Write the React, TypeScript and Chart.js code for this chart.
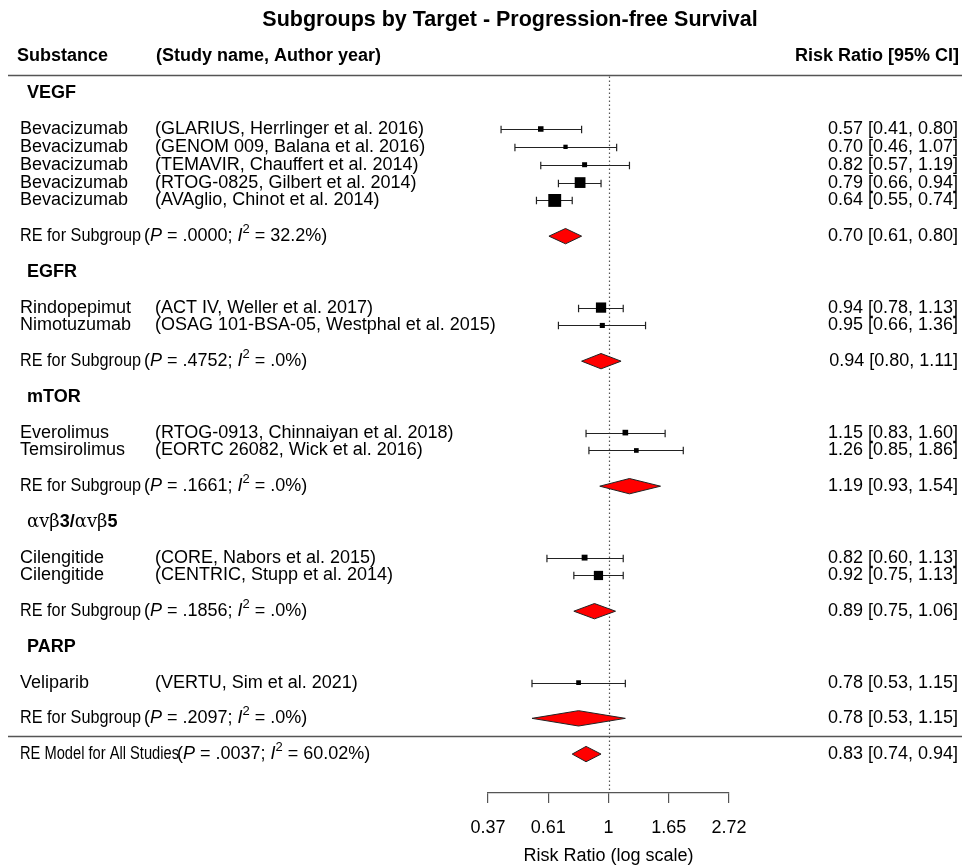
import React, { useEffect, useRef } from "react";
import { Chart, registerables } from "chart.js";

Chart.register(...registerables);

// ---------------- data ----------------
const chartTitle = "Subgroups by Target - Progression-free Survival";
const headerSubstance = "Substance";
const headerStudy = "(Study name, Author year)";
const headerEffect = "Risk Ratio [95% CI]";

const substances = [
  "Bevacizumab", "Bevacizumab", "Bevacizumab", "Bevacizumab", "Bevacizumab",
  "Rindopepimut", "Nimotuzumab",
  "Everolimus", "Temsirolimus",
  "Cilengitide", "Cilengitide",
  "Veliparib",
];
const studies = [
  "(GLARIUS, Herrlinger et al. 2016)",
  "(GENOM 009, Balana et al. 2016)",
  "(TEMAVIR, Chauffert et al. 2014)",
  "(RTOG-0825, Gilbert et al. 2014)",
  "(AVAglio, Chinot et al. 2014)",
  "(ACT IV, Weller et al. 2017)",
  "(OSAG 101-BSA-05, Westphal et al. 2015)",
  "(RTOG-0913, Chinnaiyan et al. 2018)",
  "(EORTC 26082, Wick et al. 2016)",
  "(CORE, Nabors et al. 2015)",
  "(CENTRIC, Stupp et al. 2014)",
  "(VERTU, Sim et al. 2021)",
];
const studyRR = [0.57, 0.70, 0.82, 0.79, 0.64, 0.94, 0.95, 1.15, 1.26, 0.82, 0.92, 0.78];
const studyLo = [0.41, 0.46, 0.57, 0.66, 0.55, 0.78, 0.66, 0.83, 0.85, 0.60, 0.75, 0.53];
const studyHi = [0.80, 1.07, 1.19, 0.94, 0.74, 1.13, 1.36, 1.60, 1.86, 1.13, 1.13, 1.15];
const studyRows = [0, 1, 2, 3, 4, 10, 11, 17, 18, 24, 25, 31];

const groupNames = ["VEGF", "EGFR", "mTOR", "αvβ3/αvβ5", "PARP"];
const groupHeaderRows = [-2, 8, 15, 22, 29];
const groupRows = [6, 13, 20, 27, 33];
const groupRR = [0.70, 0.94, 1.19, 0.89, 0.78];
const groupLo = [0.61, 0.80, 0.93, 0.75, 0.53];
const groupHi = [0.80, 1.11, 1.54, 1.06, 1.15];
const groupP = [".0000", ".4752", ".1661", ".1856", ".2097"];
const groupI2 = ["32.2%", ".0%", ".0%", ".0%", ".0%"];
const groupLabel = "RE for Subgroup";

const overallLabel = "RE Model for All Studies";
const overallRR = [0.83];
const overallLo = [0.74];
const overallHi = [0.94];
const overallP = ".0037";
const overallI2 = "60.02%";
const overallRow = 35;

const axisTickValues = [-1, -0.5, 0, 0.5, 1]; // log scale
const axisTickLabels = ["0.37", "0.61", "1", "1.65", "2.72"];
const axisTitle = "Risk Ratio (log scale)";

// ---------------- layout ----------------
const W = 965;
const H = 867;
const FONT = "'Liberation Sans', Arial, Helvetica, sans-serif";
const SERIF = "'DejaVu Serif', 'Liberation Serif', serif";
const FS = 18;
const titleRow = -6.1;
const headerRow = -4.1;
const headerLineRow = -3;
const bottomLineRow = 34;

const fmt = (v: number) => v.toFixed(2);
const ciText = (e: number, l: number, h: number) => `${fmt(e)} [${fmt(l)}, ${fmt(h)}]`;

type Seg = { t: string; italic?: boolean; sup?: boolean; bold?: boolean; serif?: boolean };

function drawRich(ctx: CanvasRenderingContext2D, x: number, y: number, segs: Seg[], size: number) {
  let cx = x;
  for (const s of segs) {
    const sz = s.sup ? Math.round(size * 0.7) : size;
    const fam = s.serif ? SERIF : FONT;
    ctx.font = `${s.italic ? "italic " : ""}${s.bold ? "bold " : ""}${sz}px ${fam}`;
    ctx.textAlign = "left";
    ctx.textBaseline = "middle";
    ctx.fillText(s.t, cx, s.sup ? y - size * 0.38 : y);
    cx += ctx.measureText(s.t).width;
  }
}

function statSegs(p: string, i2: string): Seg[] {
  return [
    { t: "(" },
    { t: "P", italic: true },
    { t: ` = ${p}; ` },
    { t: "I", italic: true },
    { t: "2", sup: true },
    { t: ` = ${i2})` },
  ];
}

function groupHeaderSegs(name: string): Seg[] {
  if (name.indexOf("α") < 0) return [{ t: name, bold: true }];
  const segs: Seg[] = [];
  let buf = "";
  let greek = false;
  for (const ch of name) {
    const g = ch === "α" || ch === "β" || ch === "v";
    if (buf && g !== greek) {
      segs.push(greek ? { t: buf, serif: true } : { t: buf, bold: true });
      buf = "";
    }
    greek = g;
    buf += ch;
  }
  if (buf) segs.push(greek ? { t: buf, serif: true } : { t: buf, bold: true });
  return segs;
}

export default function App() {
  const ref = useRef<HTMLCanvasElement>(null);

  useEffect(() => {
    document.body.style.margin = "0";
    const canvas = ref.current;
    if (!canvas) return;
    const ln = Math.log;

    // marker size from inverse standard error (metafor-like scaling)
    const wi = studyLo.map((l, i) => 3.92 / (ln(studyHi[i]) - ln(l)));
    const wmin = Math.min(...wi);
    const wmax = Math.max(...wi);
    const psize = wi.map((w) => (w - wmin) / (wmax - wmin) + 0.5);
    const radii = psize.map((p) => (p * 8.6) / Math.SQRT2);

    const forestPlugin = {
      id: "forest",
      beforeDatasetsDraw(chart: any) {
        const { ctx, chartArea } = chart;
        const x = chart.scales.x;
        const y = chart.scales.y;
        ctx.save();
        // reference line
        const x0 = Math.round(x.getPixelForValue(0)) + 0.5;
        ctx.strokeStyle = "#555";
        ctx.lineWidth = 1.2;
        ctx.setLineDash([1.5, 2.5]);
        ctx.beginPath();
        ctx.moveTo(x0, y.getPixelForValue(headerLineRow) + 1);
        ctx.lineTo(x0, chartArea.bottom);
        ctx.stroke();
        ctx.setLineDash([]);
        // confidence intervals
        ctx.strokeStyle = "#222";
        ctx.lineWidth = 1.2;
        studyRR.forEach((_, i) => {
          const yy = Math.round(y.getPixelForValue(studyRows[i])) + 0.5;
          const xl = x.getPixelForValue(ln(studyLo[i]));
          const xh = x.getPixelForValue(ln(studyHi[i]));
          ctx.beginPath();
          ctx.moveTo(xl, yy);
          ctx.lineTo(xh, yy);
          ctx.moveTo(xl, yy - 3.8);
          ctx.lineTo(xl, yy + 3.8);
          ctx.moveTo(xh, yy - 3.8);
          ctx.lineTo(xh, yy + 3.8);
          ctx.stroke();
        });
        // separator lines
        ctx.strokeStyle = "#555";
        ctx.lineWidth = 1.4;
        [headerLineRow, bottomLineRow].forEach((r) => {
          const yy = Math.round(y.getPixelForValue(r)) + 0.5;
          ctx.beginPath();
          ctx.moveTo(8, yy);
          ctx.lineTo(W - 3, yy);
          ctx.stroke();
        });
        ctx.restore();
      },
      afterDatasetsDraw(chart: any) {
        const { ctx } = chart;
        const x = chart.scales.x;
        const y = chart.scales.y;
        ctx.save();
        const diamond = (e: number, l: number, h: number, r: number) => {
          const yc = y.getPixelForValue(r);
          const yt = y.getPixelForValue(r - 0.43);
          const yb = y.getPixelForValue(r + 0.43);
          ctx.beginPath();
          ctx.moveTo(x.getPixelForValue(ln(l)), yc);
          ctx.lineTo(x.getPixelForValue(ln(e)), yt);
          ctx.lineTo(x.getPixelForValue(ln(h)), yc);
          ctx.lineTo(x.getPixelForValue(ln(e)), yb);
          ctx.closePath();
          ctx.fillStyle = "#ff0000";
          ctx.fill();
          ctx.strokeStyle = "#222";
          ctx.lineWidth = 1;
          ctx.stroke();
        };
        groupRR.forEach((e, i) => diamond(e, groupLo[i], groupHi[i], groupRows[i]));
        diamond(overallRR[0], overallLo[0], overallHi[0], overallRow);
        ctx.restore();
      },
      afterDraw(chart: any) {
        const { ctx } = chart;
        const y = chart.scales.y;
        ctx.save();
        ctx.fillStyle = "#000";
        ctx.textBaseline = "middle";
        // title
        ctx.font = `bold 21.5px ${FONT}`;
        ctx.textAlign = "center";
        ctx.fillText(chartTitle, 510, y.getPixelForValue(titleRow));
        // headers
        const hy = y.getPixelForValue(headerRow);
        ctx.font = `bold ${FS}px ${FONT}`;
        ctx.textAlign = "left";
        ctx.fillText(headerSubstance, 17, hy);
        ctx.fillText(headerStudy, 156, hy);
        ctx.textAlign = "right";
        ctx.fillText(headerEffect, 959, hy);
        // studies
        studyRR.forEach((e, i) => {
          const yy = y.getPixelForValue(studyRows[i]);
          ctx.font = `${FS}px ${FONT}`;
          ctx.textAlign = "left";
          ctx.fillText(substances[i], 20, yy);
          ctx.fillText(studies[i], 155, yy);
          ctx.textAlign = "right";
          ctx.fillText(ciText(e, studyLo[i], studyHi[i]), 958, yy);
        });
        // groups
        groupNames.forEach((g, i) => {
          drawRich(ctx, 27, y.getPixelForValue(groupHeaderRows[i]), groupHeaderSegs(g), FS);
          const yy = y.getPixelForValue(groupRows[i]);
          ctx.font = `${FS}px ${FONT}`;
          ctx.textAlign = "left";
          ctx.fillText(groupLabel, 20, yy, 121);
          drawRich(ctx, 144, yy, statSegs(groupP[i], groupI2[i]), FS);
          ctx.font = `${FS}px ${FONT}`;
          ctx.textAlign = "right";
          ctx.fillText(ciText(groupRR[i], groupLo[i], groupHi[i]), 958, yy);
        });
        // overall
        const oy = y.getPixelForValue(overallRow);
        ctx.font = `${FS}px ${FONT}`;
        ctx.textAlign = "left";
        ctx.fillText(overallLabel, 20, oy, 159);
        drawRich(ctx, 177, oy, statSegs(overallP, overallI2), FS);
        ctx.font = `${FS}px ${FONT}`;
        ctx.textAlign = "right";
        ctx.fillText(ciText(overallRR[0], overallLo[0], overallHi[0]), 958, oy);
        ctx.restore();
      },
    };

    const chart = new Chart(canvas, {
      type: "scatter",
      data: {
        datasets: [
          {
            data: studyRR.map((v, i) => ({ x: Math.log(v), y: studyRows[i] })),
            pointStyle: "rect",
            pointRadius: radii,
            pointHoverRadius: radii,
            backgroundColor: "#000",
            borderColor: "#000",
            borderWidth: 0,
            clip: false as any,
          },
        ],
      },
      options: {
        responsive: false,
        animation: false,
        devicePixelRatio: 1,
        layout: { autoPadding: false, padding: { left: 488, right: W - 729, top: 0, bottom: 0 } },
        plugins: {
          legend: { display: false },
          tooltip: { enabled: false },
          title: { display: false },
        },
        scales: {
          x: {
            type: "linear",
            min: -1,
            max: 1,
            afterBuildTicks: (s: any) => {
              s.ticks = axisTickValues.map((v) => ({ value: v }));
            },
            afterFit: (s: any) => {
              s.height = 74;
            },
            ticks: {
              callback: (_v: any, i: number) => axisTickLabels[i],
              font: { family: FONT, size: FS },
              color: "#000",
              padding: 14,
              maxRotation: 0,
              autoSkip: false,
            },
            grid: {
              drawOnChartArea: false,
              drawTicks: true,
              tickLength: 10,
              color: "#555",
              lineWidth: 1.2,
            },
            border: { display: true, color: "#555", width: 1.2 },
            title: {
              display: true,
              text: axisTitle,
              font: { family: FONT, size: FS },
              color: "#000",
              padding: { top: 4, bottom: 0 },
            },
          },
          y: {
            type: "linear",
            min: -7.223,
            max: 37.18,
            reverse: true,
            display: false,
          },
        },
      },
      plugins: [forestPlugin],
    });

    return () => chart.destroy();
  }, []);

  return (
    <div style={{ width: W, height: H, background: "#fff" }}>
      <canvas ref={ref} width={W} height={H} style={{ display: "block" }} />
    </div>
  );
}
